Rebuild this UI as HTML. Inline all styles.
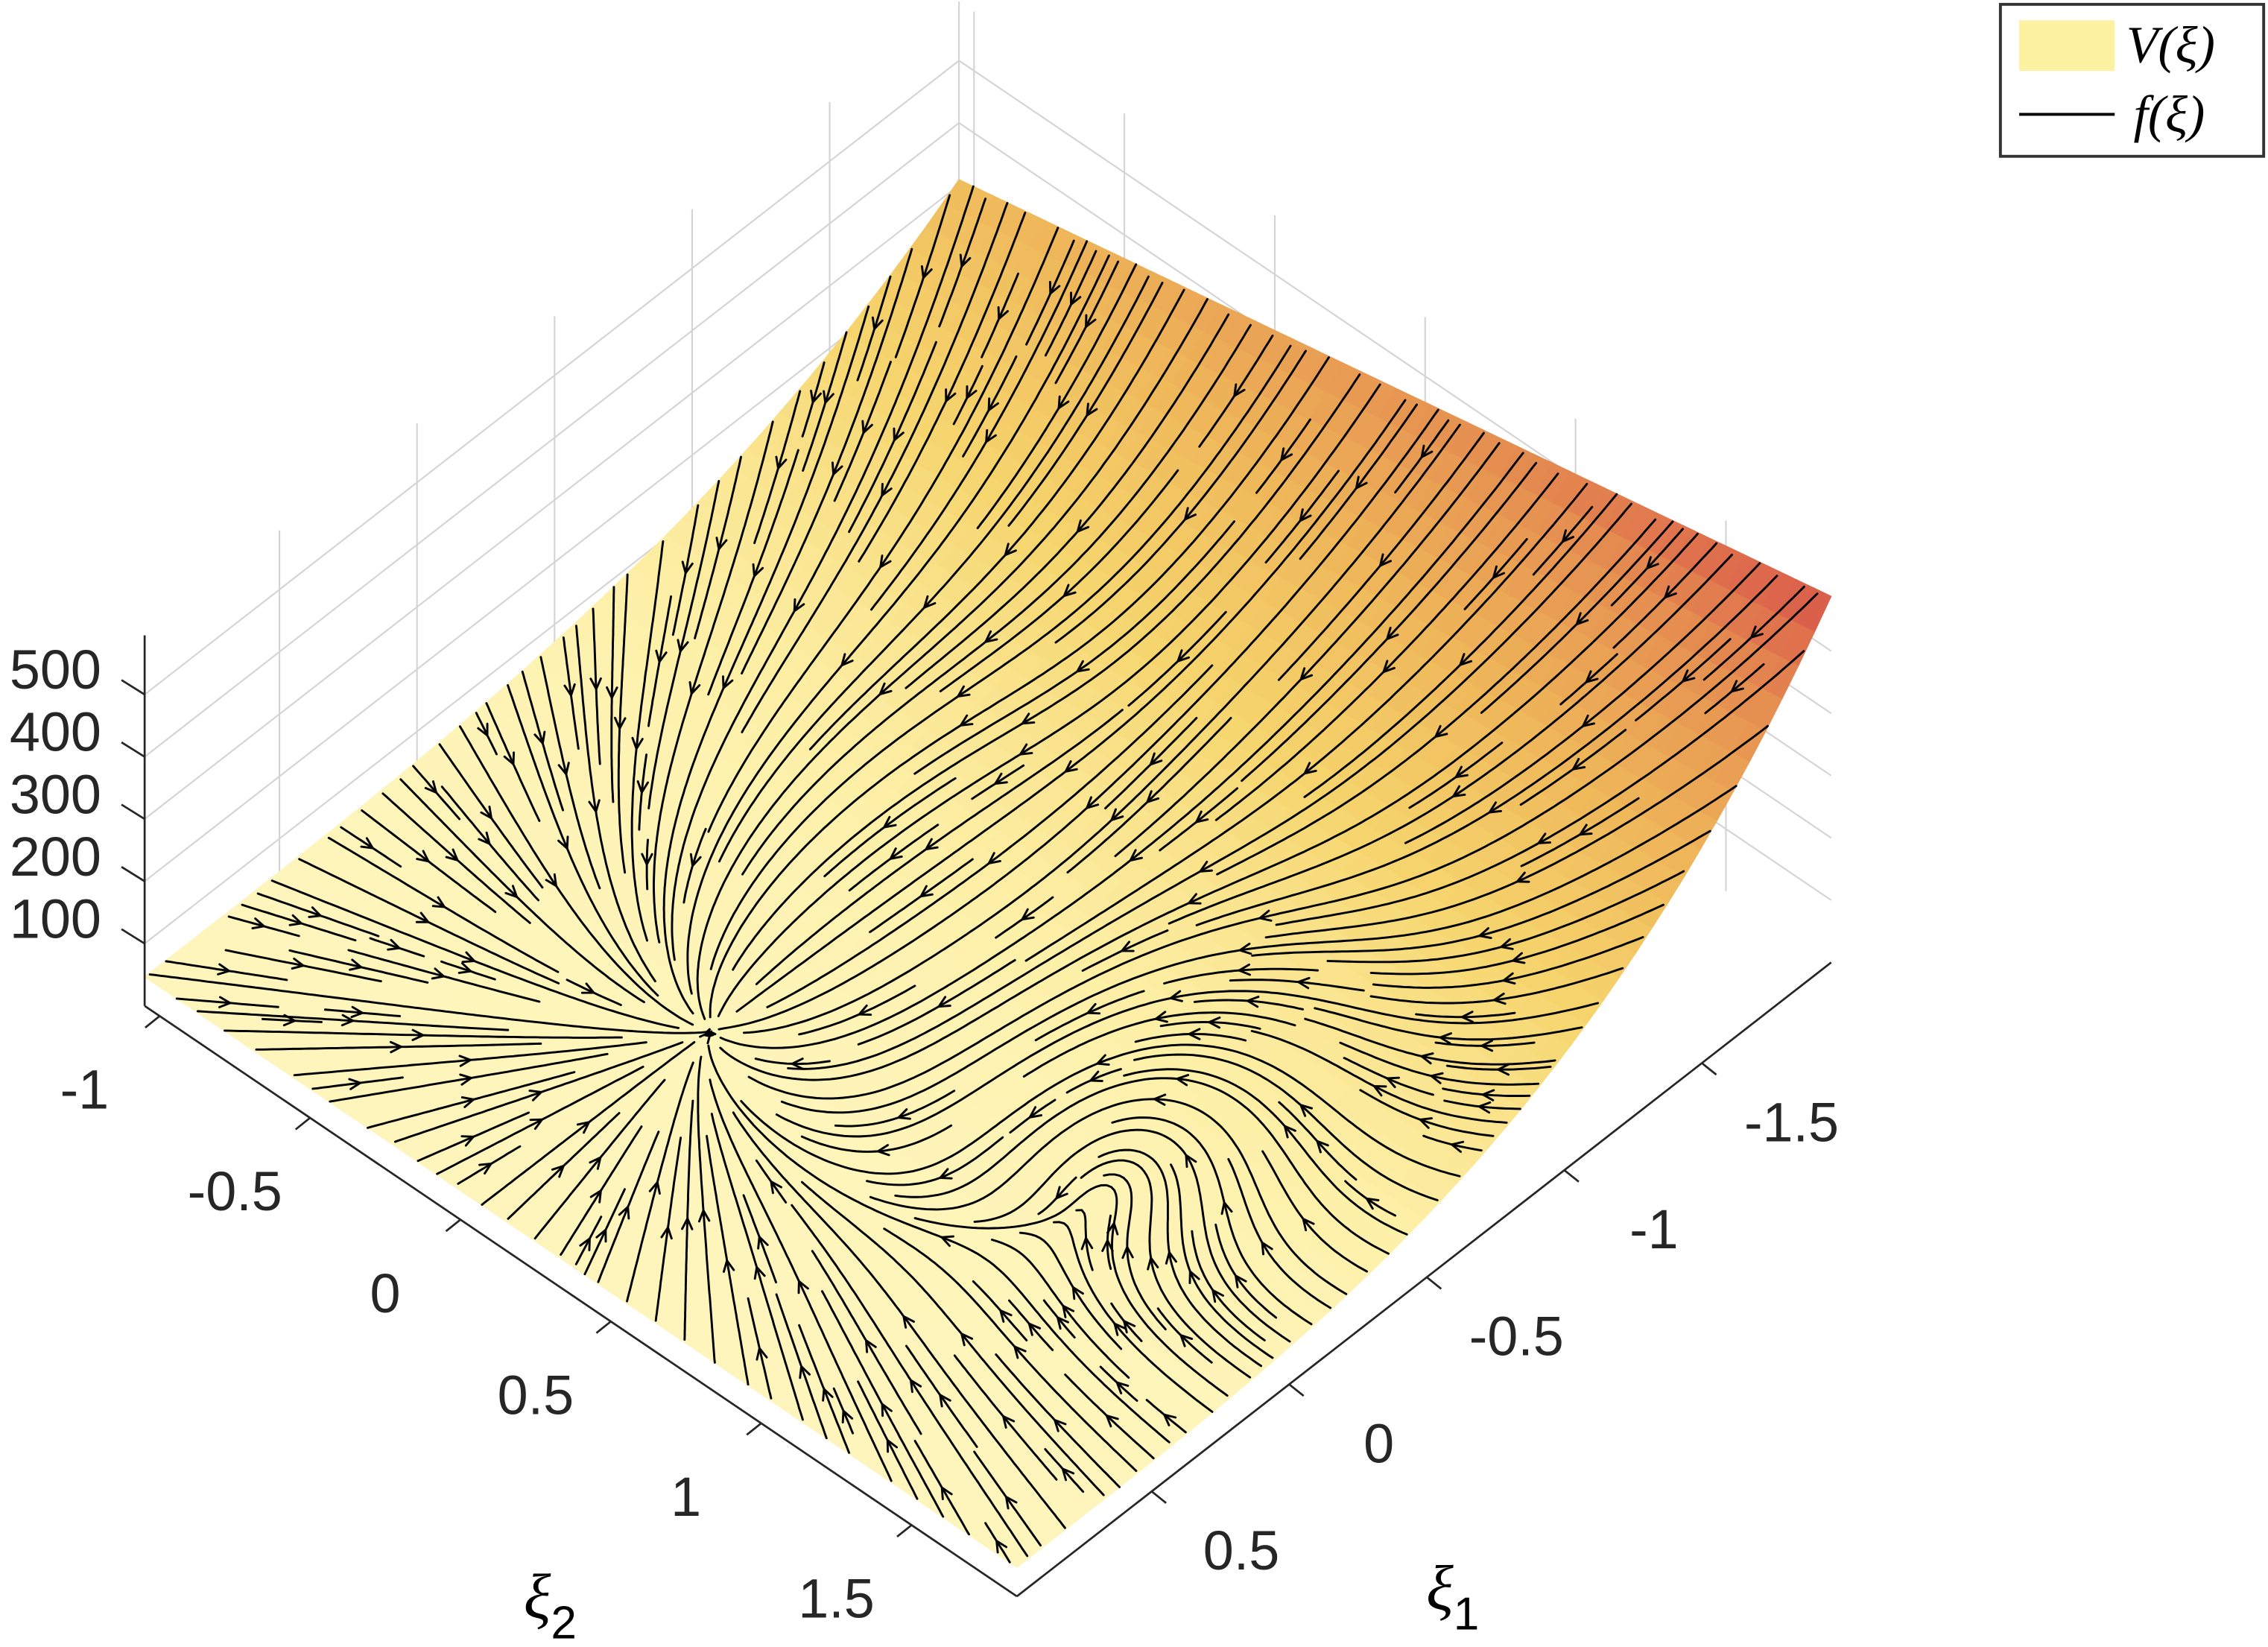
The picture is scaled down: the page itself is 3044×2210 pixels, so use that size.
<!DOCTYPE html>
<html><head><meta charset="utf-8"><style>
html,body{margin:0;padding:0;background:#fff}
svg{display:block}
text{font-family:"Liberation Sans",sans-serif;fill:#262626}
.math{font-family:"Liberation Serif",serif;font-style:italic;fill:#000}
</style></head><body>
<svg id="chart" width="3044" height="2210" viewBox="0 0 1568 1138" preserveAspectRatio="none" xmlns="http://www.w3.org/2000/svg">
<g id="grid" stroke="#d4d4d4" stroke-width="1.1" fill="none"></g>
<g id="surface"></g>
<g id="streams" stroke="#000" stroke-width="1.5" fill="none" stroke-linecap="round"></g>
<g id="axes" stroke="#262626" stroke-width="1.4" fill="none"></g>
<g id="labels" font-size="38"></g>
<text class="math" x="362" y="1118" font-size="44">ξ<tspan font-size="32" dy="14" font-style="normal" font-family="Liberation Sans">2</tspan></text>
<text class="math" x="986" y="1112" font-size="44">ξ<tspan font-size="32" dy="14" font-style="normal" font-family="Liberation Sans">1</tspan></text>
<g>
<rect x="1383" y="3" width="182" height="105" fill="#fff" stroke="#333" stroke-width="2"/>
<rect x="1396" y="14" width="66" height="35" fill="#fdf1a2"/>
<text class="math" x="1470" y="43" font-size="36">V(ξ)</text>
<line x1="1396" y1="79" x2="1462" y2="79" stroke="#000" stroke-width="2"/>
<text class="math" x="1475" y="91" font-size="36">f(ξ)</text>
</g>
</svg>
<script>
const zTicks=[100,200,300,400,500];
const zTickLabels=["100","200","300","400","500"];
const xi2Ticks=[-1,-0.5,0,0.5,1,1.5];
const xi2TickLabels=["-1","-0.5","0","0.5","1","1.5"];
const xi1Ticks=[0.5,0,-0.5,-1,-1.5];
const xi1TickLabels=["0.5","0","-0.5","-1","-1.5"];
const xi1Range=[0.99,-1.97];
const xi2Range=[-1.05,1.85];
const zRange=[0,595];
const cornerHeights=[20,20,133,253];
const sinkPoint=[0.394,0.298];
const sourcePoint=[0.45,0.62];
const swirlPoint=[0.72,0.45];

const NS="http://www.w3.org/2000/svg";
const L0=[100,695], FL=[603,408], FR=[563,-438];
const zpx=256/(zRange[1]-zRange[0]);
const wallTop=256;
function P(a,b,h){return [L0[0]+FL[0]*a+FR[0]*b, L0[1]+FL[1]*a+FR[1]*b-h];}
function aOf(x2){return (x2-xi2Range[0])/(xi2Range[1]-xi2Range[0]);}
function bOf(x1){return (x1-xi1Range[0])/(xi1Range[1]-xi1Range[0]);}
function mk(tag,attrs,parent){const e=document.createElementNS(NS,tag);for(const k in attrs)e.setAttribute(k,attrs[k]);parent.appendChild(e);return e;}
function H(a,b){const e=Math.pow(b,3.4);return cornerHeights[0]+e*(cornerHeights[2]-cornerHeights[0]+a*(cornerHeights[3]-cornerHeights[2]))+a*(cornerHeights[1]-cornerHeights[0]);}

const gridG=document.getElementById('grid');
function ln(p,q,name){const l=mk('line',{x1:p[0],y1:p[1],x2:q[0],y2:q[1]},gridG);}
zTicks.forEach(z=>{const h=z*zpx;ln(P(0,0,h),P(0,1,h),'grid-left-z'+z);ln(P(0,1,h),P(1,1,h),'grid-right-z'+z);});
xi1Ticks.forEach(v=>{const b=bOf(v);ln(P(0,b,0),P(0,b,wallTop),'grid-left-xi1');});
xi2Ticks.forEach(v=>{const a=aOf(v);ln(P(a,1,0),P(a,1,wallTop),'grid-right-xi2');});
ln(P(0,1,0),P(0,1,wallTop),'grid-back-corner');

const stops=[[0,[255,251,210]],[0.15,[253,240,168]],[0.35,[246,213,110]],[0.55,[239,184,90]],[0.8,[229,142,80]],[1,[217,86,74]]];
function col(t){t=Math.max(0,Math.min(1,t));for(let i=1;i<stops.length;i++){if(t<=stops[i][0]){const s0=stops[i-1],s1=stops[i];const f=(t-s0[0])/(s1[0]-s0[0]);const c=s0[1].map((v,k)=>Math.round(v+(s1[1][k]-v)*f));return 'rgb('+c.join(',')+')';}}return 'rgb(217,86,74)';}
const surf=document.getElementById('surface');
const N=50;
for(let i=0;i<N;i++)for(let j=0;j<N;j++){
 const a0=i/N,a1=(i+1)/N,b0=j/N,b1=(j+1)/N;
 const pts=[P(a0,b0,H(a0,b0)),P(a1,b0,H(a1,b0)),P(a1,b1,H(a1,b1)),P(a0,b1,H(a0,b1))];
 const c=col(H((a0+a1)/2,(b0+b1)/2)/253);
 const q=mk('polygon',{points:pts.map(p=>p[0].toFixed(1)+','+p[1].toFixed(1)).join(' '),fill:c,stroke:c,'stroke-width':0.6},surf);
 
 
}

function field(a,b){
 let dx=a-sinkPoint[0],dy=b-sinkPoint[1];let r=Math.sqrt(dx*dx+dy*dy)+0.05;
 let vx=-dx/r,vy=-dy/r;
 let ex=a-sourcePoint[0],ey=b-sourcePoint[1];let e2=ex*ex+ey*ey+0.02;
 vx+=0.12*ex/e2;vy+=0.12*ey/e2;
 let cx=a-swirlPoint[0],cy=b-swirlPoint[1];let g=1.6*Math.exp(-(cx*cx+cy*cy)/0.03);
 vx+=-cy*g*6;vy+=cx*g*6;
 const m=Math.hypot(vx,vy)||1;return [vx/m,vy/m];
}
const cell=8,occ=new Map();
function key(p){return Math.floor(p[0]/cell)+','+Math.floor(p[1]/cell);}
const streamsG=document.getElementById('streams');
function trace(a,b,dir,id){
 const out=[];let ds=0.0045;
 for(let k=0;k<500;k++){
  if(a<0||a>1||b<0||b>1)break;
  const p=P(a,b,H(a,b));const kk=key(p);const o=occ.get(kk);
  if(o!==undefined&&o!==id)break;
  out.push([a,b,p,kk]);
  const v1=field(a,b);const am=a+dir*v1[0]*ds/2,bm=b+dir*v1[1]*ds/2;const v2=field(am,bm);
  a+=dir*v2[0]*ds;b+=dir*v2[1]*ds;
  const d0=Math.hypot(a-sinkPoint[0],b-sinkPoint[1]);if(d0<0.006)break;
 }
 return out;
}
let lineId=0;
const seeds=[];const S=40;
for(let s=0;s<S*S;s++){const k=(s*977)%(S*S);seeds.push([(k%S+0.5)/S,(Math.floor(k/S)+0.5)/S]);}
seeds.forEach(sd=>{
 const p0=P(sd[0],sd[1],H(sd[0],sd[1]));if(occ.has(key(p0)))return;
 lineId++;
 const back=trace(sd[0],sd[1],-1,lineId);back.forEach(q=>occ.set(q[3],lineId));
 const fwd=trace(sd[0],sd[1],1,lineId);fwd.forEach(q=>occ.set(q[3],lineId));
 const pts=back.slice(1).reverse().concat(fwd).map(q=>q[2]);
 if(pts.length<12)return;
 const path=mk('path',{d:'M'+pts.map(p=>p[0].toFixed(1)+' '+p[1].toFixed(1)).join('L')},streamsG);
 
 
 const m=Math.floor(pts.length/2);const p=pts[m],q=pts[Math.max(0,m-2)];
 let ux=p[0]-q[0],uy=p[1]-q[1];const ul=Math.hypot(ux,uy)||1;ux/=ul;uy/=ul;
 const s=8,c=Math.cos(0.45),sn=Math.sin(0.45);
 const l1=[p[0]-s*(ux*c-uy*sn),p[1]-s*(uy*c+ux*sn)],l2=[p[0]-s*(ux*c+uy*sn),p[1]-s*(uy*c-ux*sn)];
 const ar=mk('path',{d:'M'+l1[0].toFixed(1)+' '+l1[1].toFixed(1)+'L'+p[0].toFixed(1)+' '+p[1].toFixed(1)+'L'+l2[0].toFixed(1)+' '+l2[1].toFixed(1)},streamsG);
 
 
});

const axesG=document.getElementById('axes');const labelsG=document.getElementById('labels');
function al(p,q,name){const l=mk('line',{x1:p[0],y1:p[1],x2:q[0],y2:q[1]},axesG);}
al(P(0,0,0),P(1,0,0),'xi2-axis-line');
al(P(1,0,0),P(1,1,0),'xi1-axis-line');
al(P(0,0,0),P(0,0,wallTop),'z-axis-line');
function lab(x,y,t,anchor,name){const e=mk('text',{x:x,y:y,'text-anchor':anchor},labelsG);e.textContent=t;}
zTicks.forEach((z,i)=>{const p=P(0,0,z*zpx);al(p,[p[0]-16,p[1]-10],'z-tick');lab(70,p[1]-4,zTickLabels[i],'end','z-tick-label');});
xi2Ticks.forEach((v,i)=>{const p=P(aOf(v),0,0);al(p,[p[0]-10,p[1]+8],'xi2-tick');lab(p[0]-52,p[1]+64,xi2TickLabels[i],'middle','xi2-tick-label');});
xi1Ticks.forEach((v,i)=>{const p=P(1,bOf(v),0);al(p,[p[0]+10,p[1]+8],'xi1-tick');lab(p[0]+62,p[1]+54,xi1TickLabels[i],'middle','xi1-tick-label');});
</script>
</body></html>
